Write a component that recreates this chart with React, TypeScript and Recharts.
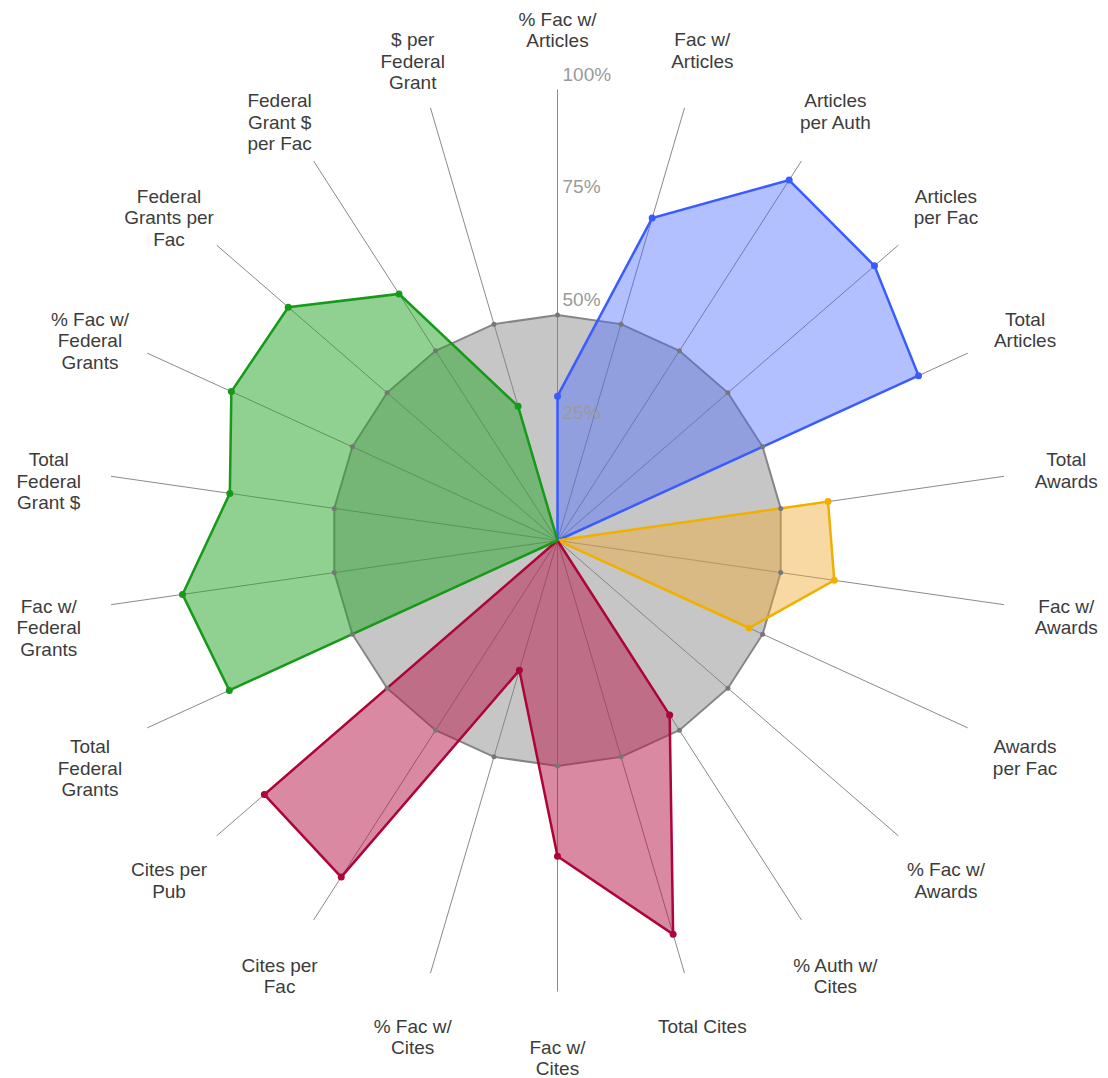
import React from 'react';
import { RadarChart, Radar, PolarGrid, PolarAngleAxis, PolarRadiusAxis } from 'recharts';

const categories = [
  '% Fac w/ Articles',
  'Fac w/ Articles',
  'Articles per Auth',
  'Articles per Fac',
  'Total Articles',
  'Total Awards',
  'Fac w/ Awards',
  'Awards per Fac',
  '% Fac w/ Awards',
  '% Auth w/ Cites',
  'Total Cites',
  'Fac w/ Cites',
  '% Fac w/ Cites',
  'Cites per Fac',
  'Cites per Pub',
  'Total Federal Grants',
  'Fac w/ Federal Grants',
  'Total Federal Grant $',
  '% Fac w/ Federal Grants',
  'Federal Grants per Fac',
  'Federal Grant $ per Fac',
  '$ per Federal Grant',
];

const categoryLabelLines = [
  ['% Fac w/', 'Articles'],
  ['Fac w/', 'Articles'],
  ['Articles', 'per Auth'],
  ['Articles', 'per Fac'],
  ['Total', 'Articles'],
  ['Total', 'Awards'],
  ['Fac w/', 'Awards'],
  ['Awards', 'per Fac'],
  ['% Fac w/', 'Awards'],
  ['% Auth w/', 'Cites'],
  ['Total Cites'],
  ['Fac w/', 'Cites'],
  ['% Fac w/', 'Cites'],
  ['Cites per', 'Fac'],
  ['Cites per', 'Pub'],
  ['Total', 'Federal', 'Grants'],
  ['Fac w/', 'Federal', 'Grants'],
  ['Total', 'Federal', 'Grant $'],
  ['% Fac w/', 'Federal', 'Grants'],
  ['Federal', 'Grants per', 'Fac'],
  ['Federal', 'Grant $', 'per Fac'],
  ['$ per', 'Federal', 'Grant'],
];

const baselineValues = [50, 50, 50, 50, 50, 50, 50, 50, 50, 50, 50, 50, 50, 50, 50, 50, 50, 50, 50, 50, 50, 50];
const articlesValues = [32, 74.5, 95, 93, 88, 0, 0, 0, 0, 0, 0, 0, 0, 0, 0, 0, 0, 0, 0, 0, 0, 0];
const awardsValues = [0, 0, 0, 0, 0, 60.6, 62, 46.7, 0, 0, 0, 0, 0, 0, 0, 0, 0, 0, 0, 0, 0, 0];
const citesValues = [0, 0, 0, 0, 0, 0, 0, 0, 0, 46, 91, 70, 30, 88.7, 86, 0, 0, 0, 0, 0, 0, 0];
const grantsValues = [0, 0, 0, 0, 0, 0, 0, 0, 0, 0, 0, 0, 0, 0, 0, 80, 84, 73.4, 79.5, 79, 65, 31];

const data = categories.map((c, i) => ({
  category: c,
  baseline: baselineValues[i],
  articles: articlesValues[i],
  awards: awardsValues[i],
  cites: citesValues[i],
  grants: grantsValues[i],
}));

const W = 1100;
const H = 1070;
const CX = 549.5;
const CY = 532.5;
const R = 451;
const LABEL_R = 514;
const FONT = 'Liberation Sans, Arial, sans-serif';

function AngleTick(props: any) {
  const { x, y, payload } = props;
  const idx = categories.indexOf(payload.value);
  const lines = idx >= 0 ? categoryLabelLines[idx] : [String(payload.value)];
  const dx = x - CX;
  const dy = y - CY;
  const len = Math.hypot(dx, dy) || 1;
  const ax = CX + (dx / len) * LABEL_R;
  const ay = CY + (dy / len) * LABEL_R;
  const firstY = ay - 7.5;
  return (
    <g>
      {lines.map((ln: string, i: number) => (
        <text
          key={i}
          x={ax}
          y={firstY + i * 21.5}
          textAnchor="middle"
          dominantBaseline="central"
          fontSize={19}
          fontFamily={FONT}
          fill="#3c3c3c"
        >
          {ln}
        </text>
      ))}
    </g>
  );
}

function RadiusTick(props: any) {
  const { x, y, payload } = props;
  if (payload.value === 0) return <g />;
  return (
    <text
      x={x + 5}
      y={y - 15.5}
      dominantBaseline="central"
      textAnchor="start"
      fontSize={19}
      fontFamily={FONT}
      fill="#9a9a9a"
    >
      {payload.value}%
    </text>
  );
}

function makeDot(color: string, r: number) {
  return (props: any) => {
    const { cx, cy, index } = props;
    if (Math.hypot(cx - CX, cy - CY) < 1) return <g key={`d-${index}`} />;
    return <circle key={`d-${index}`} cx={cx} cy={cy} r={r} fill={color} stroke="none" />;
  };
}

export default function App() {
  return (
    <div style={{ width: W, height: H }}>
      <RadarChart
        width={W}
        height={H}
        data={data}
        cx={CX}
        cy={CY}
        outerRadius={R}
        margin={{ top: 0, right: 0, bottom: 0, left: 0 }}
      >
        <PolarGrid gridType="polygon" radialLines stroke="#8a8a8a" strokeWidth={1} polarRadius={[0]} />
        <PolarAngleAxis dataKey="category" tick={<AngleTick />} axisLine={false} tickLine={false} />
        <PolarRadiusAxis
          angle={90}
          domain={[0, 100]}
          tickCount={5}
          axisLine={false}
          tickLine={false}
          tick={<RadiusTick />}
        />
        <Radar
          dataKey="baseline"
          stroke="#858585"
          strokeWidth={2}
          fill="#808080"
          fillOpacity={0.45}
          dot={makeDot('#777777', 2.5)}
          isAnimationActive={false}
        />
        <Radar
          dataKey="articles"
          stroke="#3a5cff"
          strokeWidth={2.5}
          fill="#4a68ff"
          fillOpacity={0.42}
          dot={makeDot('#3a5cff', 3.5)}
          isAnimationActive={false}
        />
        <Radar
          dataKey="awards"
          stroke="#f0b000"
          strokeWidth={2.5}
          fill="#f0aa32"
          fillOpacity={0.45}
          dot={makeDot('#f0b000', 3.5)}
          isAnimationActive={false}
        />
        <Radar
          dataKey="cites"
          stroke="#ac0538"
          strokeWidth={2.5}
          fill="#b81c4c"
          fillOpacity={0.52}
          dot={makeDot('#ac0538', 3.5)}
          isAnimationActive={false}
        />
        <Radar
          dataKey="grants"
          stroke="#17991a"
          strokeWidth={2.5}
          fill="#2aa42a"
          fillOpacity={0.52}
          dot={makeDot('#17991a', 3.5)}
          isAnimationActive={false}
        />
      </RadarChart>
    </div>
  );
}
